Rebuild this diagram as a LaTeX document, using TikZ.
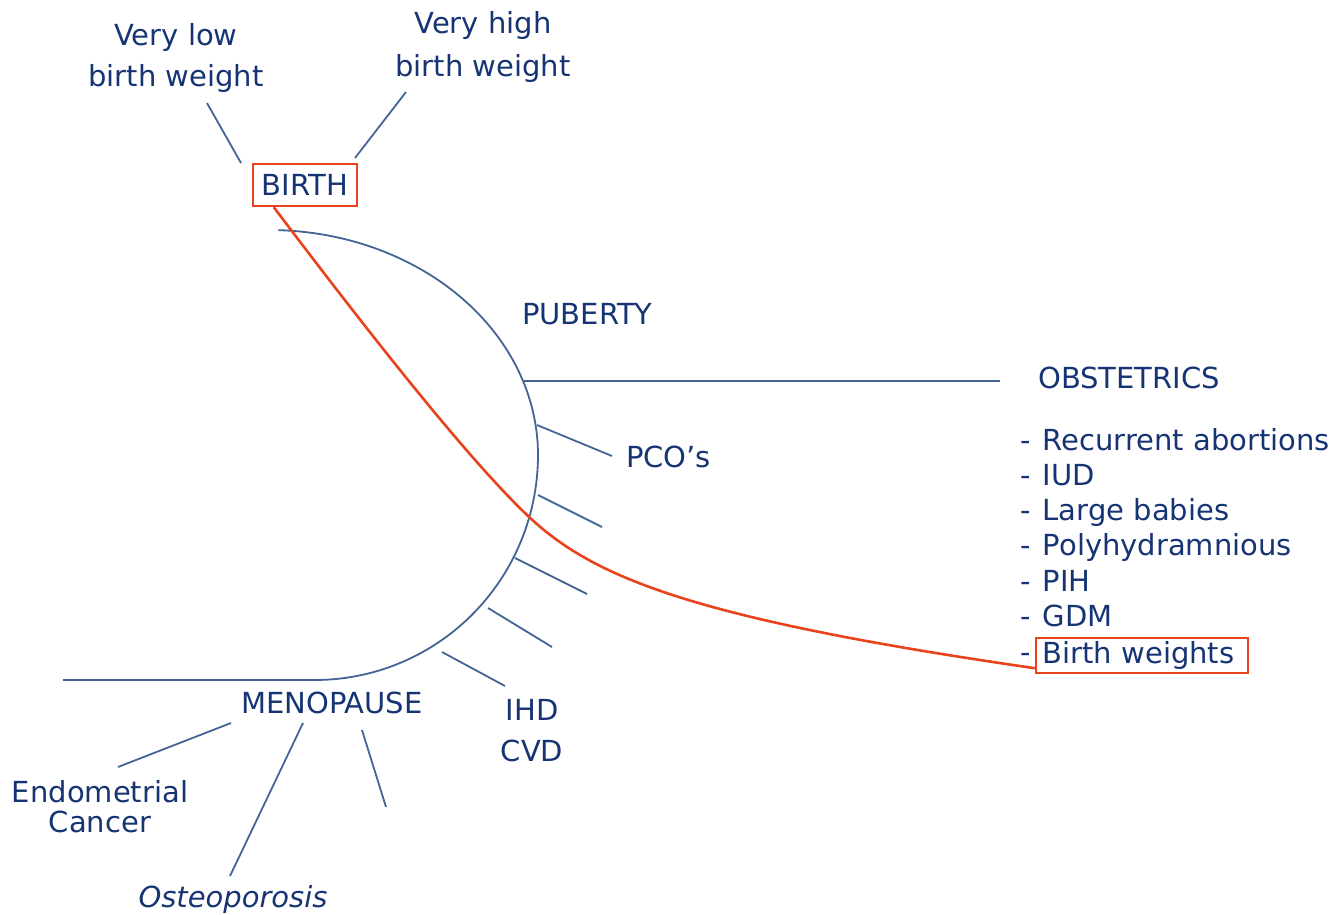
\documentclass[tikz,border=0pt]{standalone}
\usepackage{fontspec}
\setmainfont{DejaVu Sans}
\definecolor{txt}{RGB}{22,52,115}
\definecolor{ln}{RGB}{68,100,150}
\definecolor{rd}{RGB}{232,67,28}
\begin{document}
\begin{tikzpicture}[x=1pt,y=-1pt,
  lbl/.style={text=txt, font=\fontsize{29}{41}\selectfont, inner sep=0pt, align=center},
  redbox/.style={lbl, draw=rd, line width=2.4pt, text height=21pt, text depth=0pt},
  blueline/.style={draw=ln, line width=1.8pt},
  redline/.style={draw=rd, line width=2.6pt, line join=round}]
\useasboundingbox (0,0) rectangle (1341,915);

% labels
\node[lbl] (vlbw) at (176,58) {Very low\\birth weight};
\node[lbl, font=\fontsize{29}{43}\selectfont] (vhbw) at (483,47) {Very high\\birth weight};
\node[redbox, minimum width=104pt, minimum height=42pt] (birth) at (305,185) {BIRTH};
\node[lbl, anchor=base west] (pub) at (522,324) {PUBERTY};
\node[lbl, anchor=base west] (obst) at (1038,388) {OBSTETRICS};
\node[lbl, anchor=base west] (pco) at (626,467) {PCO's};
\node[lbl] (ihd) at (532,731) {IHD\\CVD};
\node[lbl, anchor=base] (meno) at (332,713) {MENOPAUSE};
\node[lbl, font=\fontsize{29}{30}\selectfont] (endo) at (100,807) {Endometrial\\Cancer};
\node[lbl, anchor=base, font=\fontsize{29}{41}\selectfont\itshape] (osteo) at (233,907) {Osteoporosis};

% obstetrics list
\foreach \t [count=\i from 0] in {Recurrent abortions, IUD, Large babies, Polyhydramnious, PIH, GDM}
  \node[lbl, anchor=base west] (ob\i) at (1020,{450+35.33*\i}) {-\kern0.42em\t};
\node[lbl, anchor=base west] (obdash) at (1020,662) {-};
\node[redbox, text height=22pt, text depth=7pt, minimum width=212pt, minimum height=35pt] (bw) at (1142,655.5) {Birth weights\kern7pt};

% life arc
\draw[blueline] plot[domain=-88:0, samples=60] ({269+269*cos(\x)},{455+225*sin(\x)})
  -- plot[domain=0:90, samples=60] ({315+223*cos(\x)},{455+225*sin(\x)}) -- (63,680);

% connectors
\coordinate (vl1) at (207,103); \coordinate (vl2) at (241,163);
\coordinate (vh1) at (406,92);  \coordinate (vh2) at (355,158);
\draw[blueline] (vl1) -- (vl2);
\draw[blueline] (vh1) -- (vh2);
\coordinate (o1) at (524,381); \coordinate (o2) at (1000,381);
\draw[blueline] (o1) -- (o2);
\coordinate (p1) at (537,425); \coordinate (p2) at (612,456);
\draw[blueline] (p1) -- (p2);
\coordinate (t2a) at (538,495); \coordinate (t2b) at (602,527);
\coordinate (t3a) at (515,558); \coordinate (t3b) at (587,594);
\coordinate (t4a) at (488,608); \coordinate (t4b) at (552,647);
\coordinate (t5a) at (442,652); \coordinate (t5b) at (505,686);
\draw[blueline] (t2a) -- (t2b);
\draw[blueline] (t3a) -- (t3b);
\draw[blueline] (t4a) -- (t4b);
\draw[blueline] (t5a) -- (t5b);
\coordinate (e1) at (231,723); \coordinate (e2) at (118,767);
\coordinate (s1) at (303,723); \coordinate (s2) at (230,876);
\coordinate (m1) at (362,730); \coordinate (m2) at (386,807);
\draw[blueline] (e1) -- (e2);
\draw[blueline] (s1) -- (s2);
\draw[blueline] (m1) -- (m2);

% red connector
\coordinate (rx) at (527,515);
\draw[redline] ([xshift=22pt]birth.south west)
  .. controls (352.5,311.4) and (462,453) .. (rx)
  .. controls (592,577) and (690.5,618.4) .. ([yshift=6pt]bw.south west);
\end{tikzpicture}
\end{document}
